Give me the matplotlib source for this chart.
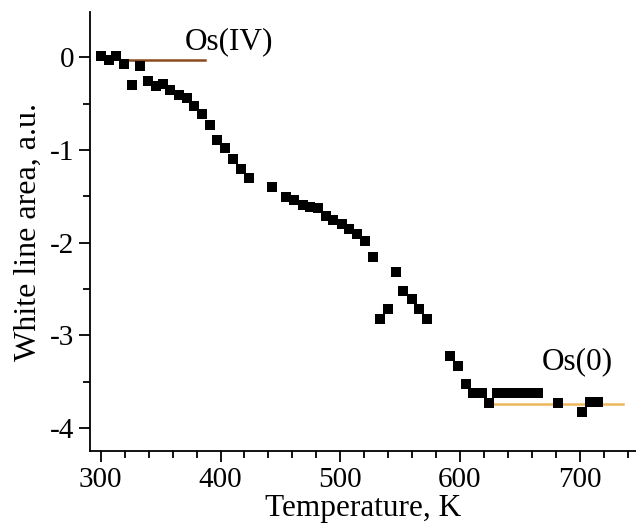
import matplotlib.pyplot as plt
from matplotlib.ticker import MultipleLocator

plt.rcParams['font.family'] = ['Liberation Serif', 'DejaVu Serif']
plt.rcParams['axes.unicode_minus'] = False

# data
temp = [300, 307, 313, 319.5, 326, 332.6, 339.6, 346, 352, 358, 365, 371.6, 378, 384.7,
        391, 397, 403.7, 410.6, 417, 423.7, 442.7, 455, 461.6, 468.6, 475, 481.7, 488.4,
        494, 501.5, 507.4, 514, 520.7, 527.4, 533.3, 540, 546.7, 552.5, 560, 565.9,
        572.6, 591.8, 598.5, 605.2, 611, 618.6, 624.4, 631, 638, 644, 651, 658, 665,
        682, 702, 709, 715.6]
area = [0.01, -0.03, 0.02, -0.07, -0.30, -0.09, -0.25, -0.31, -0.29, -0.35, -0.41, -0.44,
        -0.53, -0.61, -0.73, -0.89, -0.98, -1.10, -1.20, -1.30, -1.40, -1.51, -1.54, -1.59,
        -1.61, -1.63, -1.71, -1.76, -1.80, -1.85, -1.91, -1.98, -2.16, -2.82, -2.72, -2.32,
        -2.52, -2.61, -2.72, -2.82, -3.22, -3.33, -3.53, -3.62, -3.62, -3.73, -3.62, -3.62,
        -3.62, -3.62, -3.62, -3.62, -3.73, -3.83, -3.72, -3.72]

# reference levels
os4_x = [318, 387]
os4_y = [-0.03, -0.03]
os0_x = [621, 736]
os0_y = [-3.74, -3.74]

fig = plt.figure(figsize=(6.36, 5.27), dpi=100)
ax = fig.add_axes([0.1415, 0.1442, 0.8585, 0.833])

ax.plot(os4_x, os4_y, color='#8B4A1E', lw=1.8)
ax.plot(os0_x, os0_y, color='#EDB75A', lw=1.8)
ax.plot(temp, area, 's', color='black', ms=6.5, markeredgewidth=0)

ax.text(370, 0.17, 'Os(IV)', fontsize=22.5, va='center', ha='left')
ax.text(668, -3.29, 'Os(0)', fontsize=22.5, va='center', ha='left')

ax.set_xlim(291, 747)
ax.set_ylim(-4.25, 0.49)
ax.xaxis.set_major_locator(MultipleLocator(100))
ax.xaxis.set_minor_locator(MultipleLocator(20))
ax.yaxis.set_major_locator(MultipleLocator(1))
ax.yaxis.set_minor_locator(MultipleLocator(0.5))

ax.spines['top'].set_visible(False)
ax.spines['right'].set_visible(False)
for s in ['left', 'bottom']:
    ax.spines[s].set_linewidth(1.3)
ax.tick_params(which='major', direction='out', length=8, width=1.3, labelsize=21)
ax.tick_params(which='minor', direction='out', length=5, width=1.3)

ax.set_xlabel('Temperature, K', fontsize=22.5, labelpad=1)
ax.set_ylabel('White line area, a.u.', fontsize=23, labelpad=5)

fig.savefig('out.png', dpi=100)
